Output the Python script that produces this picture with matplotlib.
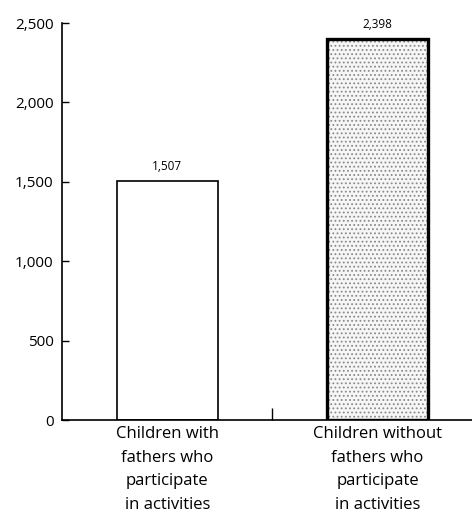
import numpy as np
import matplotlib
matplotlib.use("Agg")
import matplotlib.pyplot as plt

plt.rcParams['font.family'] = ['Open Sans', 'DejaVu Sans']
plt.rcParams['hatch.linewidth'] = 0.8

# data
categories = ["Children with\nfathers who\nparticipate\nin activities",
              "Children without\nfathers who\nparticipate\nin activities"]
values = [1507, 2398]
yticks = [0, 500, 1000, 1500, 2000, 2500]

fig = plt.figure(figsize=(4.72, 5.13), dpi=100)
ax = fig.add_axes([0.131, 0.181, 0.869, 0.774])

x = np.arange(len(values))
ax.bar(x[0], values[0], width=0.48, facecolor='white', edgecolor='black', linewidth=1.2)
ax.bar(x[1], values[1], width=0.48, facecolor='#f6f6f6', edgecolor='#8a8a8a',
       hatch='....', linewidth=0)
# thick outline for the textured bar
ax.bar(x[1], values[1], width=0.48, facecolor='none', edgecolor='black', linewidth=2.4)

for xi, v in zip(x, values):
    ax.text(xi, v + 50, f"{v:,}", ha='center', va='bottom', fontsize=8.5)

ax.set_xlim(-0.502, 1.45)
ax.set_ylim(0, 2500)
ax.set_yticks(yticks)
ax.set_yticklabels([f"{t:,}" for t in yticks], fontsize=11)
ax.tick_params(axis='y', direction='in', length=5, width=1, pad=6)

# single tick between the two bars, labels placed as text
ax.set_xticks([0.5])
ax.set_xticklabels([''])
ax.tick_params(axis='x', direction='in', length=9, width=1)
for xi, lab in zip(x, categories):
    ax.text(xi, -40, lab, ha='center', va='top', fontsize=12, linespacing=1.62)

for s in ['top', 'right']:
    ax.spines[s].set_visible(False)
for s in ['left', 'bottom']:
    ax.spines[s].set_linewidth(1.2)

fig.savefig("out.png", dpi=100)
